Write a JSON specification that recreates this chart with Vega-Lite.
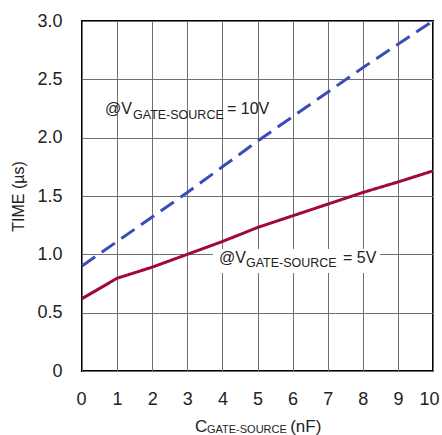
{
  "$schema": "https://vega.github.io/schema/vega-lite/v6.json",
  "width": 351,
  "height": 350,
  "autosize": "none",
  "padding": {"left": 82, "top": 21, "right": 9, "bottom": 64},
  "background": "white",
  "config": {
    "view": {"stroke": "black", "strokeWidth": 2},
    "font": "Liberation Sans, Arial, sans-serif"
  },
  "datasets": {
    "curves": [
      {"c": 0, "t": 0.9, "v": "10V"}, {"c": 1, "t": 1.11, "v": "10V"}, {"c": 2, "t": 1.32, "v": "10V"},
      {"c": 3, "t": 1.53, "v": "10V"}, {"c": 4, "t": 1.75, "v": "10V"}, {"c": 5, "t": 1.97, "v": "10V"},
      {"c": 6, "t": 2.18, "v": "10V"}, {"c": 7, "t": 2.39, "v": "10V"}, {"c": 8, "t": 2.6, "v": "10V"},
      {"c": 9, "t": 2.8, "v": "10V"}, {"c": 10, "t": 3.0, "v": "10V"},
      {"c": 0, "t": 0.62, "v": "5V"}, {"c": 1, "t": 0.795, "v": "5V"}, {"c": 2, "t": 0.89, "v": "5V"},
      {"c": 3, "t": 1.0, "v": "5V"}, {"c": 4, "t": 1.11, "v": "5V"}, {"c": 5, "t": 1.23, "v": "5V"},
      {"c": 6, "t": 1.33, "v": "5V"}, {"c": 7, "t": 1.43, "v": "5V"}, {"c": 8, "t": 1.53, "v": "5V"},
      {"c": 9, "t": 1.62, "v": "5V"}, {"c": 10, "t": 1.715, "v": "5V"}
    ],
    "boxes": [{"c": 3.73, "c2": 8.49, "t": 0.84, "t2": 1.045}],
    "mainText": [
      {"c": 0.655, "t": 2.203, "text": "@V"},
      {"c": 4.13, "t": 2.203, "text": "= 10V"},
      {"c": 3.903, "t": 0.926, "text": "@V"},
      {"c": 7.436, "t": 0.926, "text": "= 5V"}
    ],
    "subText": [
      {"c": 1.453, "t": 2.16, "text": "GATE-SOURCE"},
      {"c": 4.67, "t": 0.891, "text": "GATE-SOURCE"}
    ],
    "xTitleMain": [
      {"c": 3.22, "t": -0.527, "text": "C"},
      {"c": 5.93, "t": -0.527, "text": "(nF)"}
    ],
    "xTitleSub": [
      {"c": 3.56, "t": -0.535, "text": "GATE-SOURCE"}
    ]
  },
  "encoding": {
    "x": {
      "field": "c", "type": "quantitative",
      "scale": {"domain": [0, 10], "nice": false, "zero": false},
      "axis": {
        "values": [0, 1, 2, 3, 4, 5, 6, 7, 8, 9, 10],
        "grid": true, "gridColor": "#707070", "gridWidth": 1,
        "domain": false, "ticks": false,
        "labelFontSize": 18, "labelPadding": 19, "labelColor": "#222",
        "labelOverlap": false, "labelSeparation": 0,
        "labelFlush": true, "labelFlushOffset": 6,
        "title": null
      }
    },
    "y": {
      "field": "t", "type": "quantitative",
      "scale": {"domain": [0, 3], "nice": false},
      "axis": {
        "values": [0, 0.5, 1, 1.5, 2, 2.5, 3],
        "labelExpr": "datum.value == 0 ? '0' : format(datum.value, '.1f')",
        "grid": true, "gridColor": "#707070", "gridWidth": 1,
        "domain": false, "ticks": false,
        "labelFontSize": 18, "labelPadding": 20, "labelColor": "#222",
        "labelOverlap": false,
        "labelFlush": false,
        "title": "TIME (µs)", "titleFontSize": 16, "titleFontWeight": "normal",
        "titleColor": "#222", "titlePadding": 10
      }
    }
  },
  "layer": [
    {
      "data": {"name": "boxes"},
      "mark": {"type": "rect", "fill": "white"},
      "encoding": {
        "x2": {"field": "c2"},
        "y2": {"field": "t2"}
      }
    },
    {
      "data": {"name": "curves"},
      "mark": {"type": "line", "strokeWidth": 3},
      "encoding": {
        "color": {
          "field": "v", "type": "nominal",
          "scale": {"domain": ["10V", "5V"], "range": ["#3b4cb8", "#a0093a"]},
          "legend": null
        },
        "strokeDash": {
          "field": "v", "type": "nominal",
          "scale": {"domain": ["10V", "5V"], "range": [[16, 8], [1, 0]]},
          "legend": null
        }
      }
    },
    {
      "data": {"name": "mainText"},
      "mark": {"type": "text", "align": "left", "baseline": "alphabetic", "fontSize": 16, "color": "#222"},
      "encoding": {"text": {"field": "text"}}
    },
    {
      "data": {"name": "subText"},
      "mark": {"type": "text", "align": "left", "baseline": "alphabetic", "fontSize": 12.5, "color": "#222"},
      "encoding": {"text": {"field": "text"}}
    },
    {
      "data": {"name": "xTitleMain"},
      "mark": {"type": "text", "align": "left", "baseline": "alphabetic", "fontSize": 17, "color": "#222"},
      "encoding": {"text": {"field": "text"}}
    },
    {
      "data": {"name": "xTitleSub"},
      "mark": {"type": "text", "align": "left", "baseline": "alphabetic", "fontSize": 11, "color": "#222"},
      "encoding": {"text": {"field": "text"}}
    }
  ]
}
